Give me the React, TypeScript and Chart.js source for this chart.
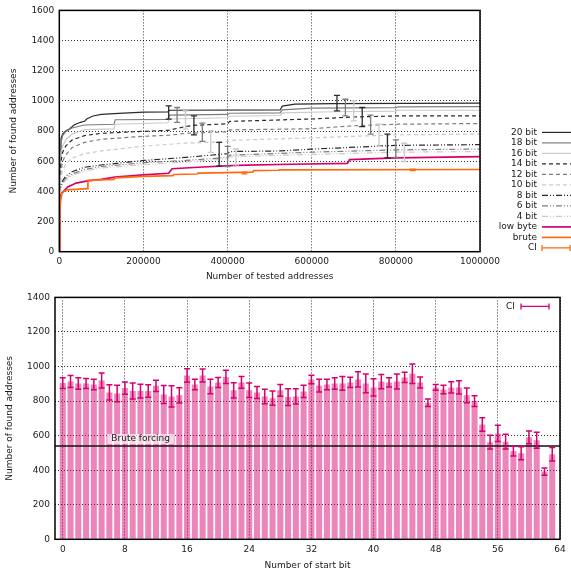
import React, { useEffect, useRef } from "react";
import { Chart, registerables } from "chart.js";

Chart.register(...registerables);

const FONT = "'DejaVu Sans', 'Liberation Sans', sans-serif";
const TEXT = "#1a1a1a";
const GRID = "rgba(0,0,0,0.8)";
const MAGENTA = "#d6006f";
const ORANGE = "#ff6a10";

// ---------------- top chart data ----------------
const testedTicks = [0, 200000, 400000, 600000, 800000, 1000000];
const foundTicksTop = [0, 200, 400, 600, 800, 1000, 1200, 1400, 1600];

const bit20 = [[0,0],[1000,500],[2000,680],[4000,750],[8000,780],[15000,800],[25000,815],[35000,840],[50000,858],[60000,865],[65000,880],[80000,900],[100000,910],[130000,915],[200000,925],[258000,927],[262000,938],[525000,940],[530000,965],[560000,978],[650000,982],[1000000,985]];
const bit18 = [[0,0],[1000,450],[2000,640],[4000,720],[8000,770],[15000,795],[30000,820],[60000,840],[130000,845],[133000,875],[258000,878],[262000,905],[400000,910],[405000,918],[525000,920],[530000,940],[600000,952],[800000,955],[805000,960],[1000000,962]];
const bit16 = [[0,0],[1000,400],[2000,560],[4000,650],[8000,700],[15000,740],[30000,780],[60000,810],[130000,815],[133000,845],[258000,855],[262000,880],[400000,888],[405000,898],[525000,903],[530000,920],[650000,928],[800000,932],[805000,938],[1000000,938]];
const bit14 = [[0,0],[1000,350],[2000,500],[4000,600],[8000,660],[15000,700],[30000,740],[60000,770],[100000,785],[200000,798],[260000,805],[300000,830],[320000,838],[400000,848],[405000,864],[600000,880],[700000,893],[800000,900],[1000000,901]];
const bit12 = [[0,0],[1000,330],[2000,460],[4000,540],[8000,600],[15000,640],[30000,690],[60000,725],[100000,745],[200000,765],[260000,772],[300000,785],[400000,795],[405000,808],[600000,815],[700000,835],[800000,845],[1000000,850]];
const bit10 = [[0,0],[1000,300],[2000,420],[4000,490],[8000,540],[15000,580],[30000,620],[60000,650],[100000,668],[200000,700],[300000,720],[400000,730],[405000,738],[600000,755],[800000,775],[1000000,780]];
const bit8 = [[0,0],[1000,300],[2000,400],[4000,440],[8000,470],[15000,500],[30000,530],[60000,560],[100000,575],[200000,605],[300000,625],[400000,650],[405000,664],[525000,668],[600000,680],[800000,705],[1000000,710]];
const bit6 = [[0,0],[1000,280],[2000,380],[4000,425],[8000,455],[15000,485],[30000,515],[60000,545],[100000,565],[200000,590],[300000,605],[400000,625],[405000,640],[600000,660],[800000,675],[1000000,681]];
const bit4 = [[0,0],[1000,270],[2000,370],[4000,415],[8000,445],[15000,475],[30000,505],[60000,535],[100000,555],[200000,578],[300000,595],[400000,615],[405000,630],[600000,645],[800000,660],[1000000,664]];
const lowByte = [[0,0],[1000,280],[3000,360],[6000,390],[10000,400],[20000,430],[40000,455],[67000,470],[100000,480],[132000,495],[200000,510],[260000,520],[268000,550],[330000,560],[420000,572],[550000,580],[685000,585],[690000,610],[800000,622],[1000000,630]];
const brute = [[0,0],[1000,250],[3000,340],[6000,385],[10000,400],[20000,410],[66000,418],[68000,473],[130000,480],[133000,490],[200000,500],[270000,505],[272000,512],[328000,515],[330000,521],[460000,527],[462000,538],[520000,540],[525000,543],[1000000,545]];

// confidence intervals: [x, low, high]
const ciBit20 = [[260000,879,967],[660000,934,1037]];
const ciBit18 = [[280000,857,956],[680000,901,1011]];
const ciBit16 = [[300000,813,934],[700000,868,1000]];
const ciBit14 = [[320000,774,901],[720000,829,956]];
const ciBit12 = [[340000,732,853],[740000,780,905]];
const ciBit10 = [[360000,659,802],[760000,699,846]];
const ciBit8 = [[380000,567,725],[780000,622,780]];
const ciBit6 = [[400000,565,699],[800000,626,741]];
const ciBit4 = [[420000,576,681],[820000,598,719]];
const ciLowByte: number[][] = [];
const ciBrute = [[440000,516,527],[840000,538,548]];

const seriesNames = ["20 bit","18 bit","16 bit","14 bit","12 bit","10 bit","8 bit","6 bit","4 bit","low byte","brute"];
const seriesPoints = [bit20, bit18, bit16, bit14, bit12, bit10, bit8, bit6, bit4, lowByte, brute];
const seriesCI = [ciBit20, ciBit18, ciBit16, ciBit14, ciBit12, ciBit10, ciBit8, ciBit6, ciBit4, ciLowByte, ciBrute];

const DARK = "#2a2a2a", MID = "#7d7d7d", LIGHT = "#cacaca";
const DASH = [4, 3];
const DDOT = [6, 2, 1, 2, 1, 2];
const seriesStyle = [
  { color: DARK, width: 1.2, dash: [] as number[] },
  { color: MID, width: 1.2, dash: [] as number[] },
  { color: LIGHT, width: 1.2, dash: [] as number[] },
  { color: DARK, width: 1.2, dash: DASH },
  { color: MID, width: 1.2, dash: DASH },
  { color: LIGHT, width: 1.2, dash: DASH },
  { color: DARK, width: 1.2, dash: DDOT },
  { color: MID, width: 1.2, dash: DDOT },
  { color: LIGHT, width: 1.2, dash: DDOT },
  { color: MAGENTA, width: 1.7, dash: [] as number[] },
  { color: ORANGE, width: 1.7, dash: [] as number[] },
];

// ---------------- bottom chart data ----------------
const startBits = [0,1,2,3,4,5,6,7,8,9,10,11,12,13,14,15,16,17,18,19,20,21,22,23,24,25,26,27,28,29,30,31,32,33,34,35,36,37,38,39,40,41,42,43,44,45,46,47,48,49,50,51,52,53,54,55,56,57,58,59,60,61,62,63];
const foundMeans = [904,913,902,902,896,919,850,844,875,858,858,858,888,838,827,833,948,896,948,885,908,940,862,908,862,850,827,817,862,823,827,856,925,890,896,902,902,908,925,902,879,913,908,913,937,958,908,790,879,867,879,879,833,800,665,562,613,565,510,498,590,573,392,492];
const ciHalf = [31,35,33,29,31,43,44,48,35,46,40,36,33,52,61,44,39,31,37,42,29,39,44,34,42,35,42,41,34,48,44,36,25,37,31,33,40,30,44,54,50,41,27,43,30,57,32,22,17,25,33,38,42,31,39,40,47,43,28,37,37,46,21,39];
const startBitTicks = [0, 8, 16, 24, 32, 40, 48, 56, 64];
const foundTicksBottom = [0, 200, 400, 600, 800, 1000, 1200, 1400];
const bruteForcing = 540;
const bruteLabel = "Brute forcing";
const bruteLabelAt = 6.25;

const font = { family: FONT, size: 9, lineHeight: 1.2 };

function drawBox(chart: any) {
  const { ctx, chartArea: a } = chart;
  ctx.save();
  ctx.strokeStyle = "#000";
  ctx.lineWidth = 1.5;
  ctx.strokeRect(a.left, a.top, a.right - a.left, a.bottom - a.top);
  ctx.restore();
}

function drawErrorBar(ctx: CanvasRenderingContext2D, x: number, y1: number, y2: number, cap: number) {
  ctx.beginPath();
  ctx.moveTo(x, y1); ctx.lineTo(x, y2);
  ctx.moveTo(x - cap, y1); ctx.lineTo(x + cap, y1);
  ctx.moveTo(x - cap, y2); ctx.lineTo(x + cap, y2);
  ctx.stroke();
}

const topPlugin = {
  id: "topExtras",
  afterDatasetsDraw(chart: any) {
    const { ctx, scales } = chart;
    const xs = scales.x, ys = scales.y;
    ctx.save();
    seriesCI.forEach((list, si) => {
      ctx.strokeStyle = seriesStyle[si].color;
      ctx.lineWidth = 1.3;
      ctx.setLineDash([]);
      list.forEach(([x, lo, hi]) => {
        drawErrorBar(ctx, xs.getPixelForValue(x), ys.getPixelForValue(hi), ys.getPixelForValue(lo), 3);
      });
    });
    ctx.restore();
  },
  afterDraw(chart: any) {
    drawBox(chart);
    const { ctx, chartArea } = chart;
    ctx.save();
    ctx.font = `9px ${FONT}`;
    ctx.textAlign = "right";
    ctx.textBaseline = "middle";
    const textRight = chartArea.right + 57;
    const x0 = chartArea.right + 62;
    const x1 = chartArea.right + 91;
    const startY = chartArea.top + 122;
    const step = 10.5;
    seriesNames.forEach((name, i) => {
      const y = startY + i * step;
      ctx.fillStyle = TEXT;
      ctx.fillText(name, textRight, y);
      ctx.strokeStyle = seriesStyle[i].color;
      ctx.lineWidth = seriesStyle[i].width;
      ctx.setLineDash(seriesStyle[i].dash);
      ctx.beginPath(); ctx.moveTo(x0, y); ctx.lineTo(x1, y); ctx.stroke();
    });
    const y = startY + seriesNames.length * step;
    ctx.fillStyle = TEXT;
    ctx.fillText("CI", textRight, y);
    ctx.setLineDash([]);
    ctx.strokeStyle = ORANGE;
    ctx.lineWidth = 1.3;
    ctx.beginPath();
    ctx.moveTo(x0, y); ctx.lineTo(x1 - 1, y);
    ctx.moveTo(x0, y - 3); ctx.lineTo(x0, y + 3);
    ctx.moveTo(x1 - 1, y - 3); ctx.lineTo(x1 - 1, y + 3);
    ctx.stroke();
    ctx.restore();
  },
};

const bottomPlugin = {
  id: "bottomExtras",
  afterDatasetsDraw(chart: any) {
    const { ctx, scales, chartArea } = chart;
    const xs = scales.x, ys = scales.y;
    ctx.save();
    // brute forcing line
    const yb = ys.getPixelForValue(bruteForcing);
    ctx.strokeStyle = "#111";
    ctx.lineWidth = 1.3;
    ctx.beginPath(); ctx.moveTo(chartArea.left, yb); ctx.lineTo(chartArea.right, yb); ctx.stroke();
    // label
    ctx.font = `9px ${FONT}`;
    const tx = xs.getPixelForValue(bruteLabelAt);
    const tw = ctx.measureText(bruteLabel).width;
    ctx.fillStyle = "rgba(255,255,255,0.65)";
    ctx.fillRect(tx - 4, yb - 12, tw + 8, 10);
    ctx.fillStyle = TEXT;
    ctx.textAlign = "left";
    ctx.textBaseline = "middle";
    ctx.fillText(bruteLabel, tx, yb - 7);
    // error bars
    ctx.strokeStyle = MAGENTA;
    ctx.lineWidth = 1.5;
    startBits.forEach((b, i) => {
      const x = xs.getPixelForValue(b);
      drawErrorBar(ctx, x, ys.getPixelForValue(foundMeans[i] + ciHalf[i]), ys.getPixelForValue(foundMeans[i] - ciHalf[i]), 3);
    });
    ctx.restore();
  },
  afterDraw(chart: any) {
    drawBox(chart);
    const { ctx, chartArea } = chart;
    ctx.save();
    ctx.font = `9px ${FONT}`;
    ctx.fillStyle = TEXT;
    ctx.textAlign = "right";
    ctx.textBaseline = "middle";
    const y = chartArea.top + 9;
    const textRight = chartArea.right - 45;
    ctx.fillText("CI", textRight, y);
    const x0 = chartArea.right - 39, x1 = chartArea.right - 11;
    ctx.strokeStyle = MAGENTA;
    ctx.lineWidth = 1.3;
    ctx.beginPath();
    ctx.moveTo(x0, y); ctx.lineTo(x1, y);
    ctx.moveTo(x0, y - 3); ctx.lineTo(x0, y + 3);
    ctx.moveTo(x1, y - 3); ctx.lineTo(x1, y + 3);
    ctx.stroke();
    ctx.restore();
  },
};

function axisCommon() {
  return {
    grid: { color: GRID, lineWidth: 1, drawTicks: false, offset: false },
    border: { display: false, dash: [1, 2] },
  };
}

export default function App() {
  const topRef = useRef<HTMLCanvasElement>(null);
  const botRef = useRef<HTMLCanvasElement>(null);

  useEffect(() => {
    const top = new Chart(topRef.current as HTMLCanvasElement, {
      type: "line",
      data: {
        datasets: seriesPoints.map((pts, i) => ({
          label: seriesNames[i],
          data: pts.map(([x, y]) => ({ x, y })),
          borderColor: seriesStyle[i].color,
          borderWidth: seriesStyle[i].width,
          borderDash: seriesStyle[i].dash,
          pointRadius: 0,
          fill: false,
          tension: 0,
          order: seriesPoints.length - 1 - i,
        })),
      },
      options: {
        responsive: false,
        animation: false,
        layout: { padding: { left: 0, right: 91, top: 9, bottom: 0 } },
        plugins: { legend: { display: false }, tooltip: { enabled: false } },
        scales: {
          x: {
            type: "linear",
            min: 0,
            max: 1000000,
            ...axisCommon(),
            afterBuildTicks: (s: any) => { s.ticks = testedTicks.map((v) => ({ value: v })); },
            afterFit: (s: any) => { s.height = 35.3; },
            ticks: { font, color: TEXT, padding: 5, maxRotation: 0, autoSkip: false, callback: (v: any) => String(v) },
            title: { display: true, text: "Number of tested addresses", font, color: TEXT, padding: { top: 0, bottom: 4.6 } },
          },
          y: {
            type: "linear",
            min: 0,
            max: 1600,
            ...axisCommon(),
            afterBuildTicks: (s: any) => { s.ticks = foundTicksTop.map((v) => ({ value: v })); },
            afterFit: (s: any) => { s.width = 59.3; },
            ticks: { font, color: TEXT, padding: 5, callback: (v: any) => String(v) },
            title: { display: true, text: "Number of found addresses", font, color: TEXT, padding: { top: 8.6, bottom: 0 } },
          },
        },
      } as any,
      plugins: [topPlugin],
    });

    const bot = new Chart(botRef.current as HTMLCanvasElement, {
      type: "bar",
      data: {
        datasets: [
          {
            label: "found",
            data: startBits.map((b, i) => ({ x: b, y: foundMeans[i] })),
            backgroundColor: "rgba(214,0,111,0.48)",
            borderWidth: 0,
            barPercentage: 0.78,
            categoryPercentage: 1,
          },
        ],
      },
      options: {
        responsive: false,
        animation: false,
        layout: { padding: { left: 0, right: 11, top: 10, bottom: 0 } },
        plugins: { legend: { display: false }, tooltip: { enabled: false } },
        scales: {
          x: {
            type: "linear",
            min: -1,
            max: 64,
            offset: false,
            ...axisCommon(),
            afterBuildTicks: (s: any) => { s.ticks = startBitTicks.map((v) => ({ value: v })); },
            afterFit: (s: any) => { s.height = 34.7; },
            ticks: { font, color: TEXT, padding: 5, maxRotation: 0, autoSkip: false, callback: (v: any) => String(v) },
            title: { display: true, text: "Number of start bit", font, color: TEXT, padding: { top: 0, bottom: 2.6 } },
          },
          y: {
            type: "linear",
            min: 0,
            max: 1400,
            ...axisCommon(),
            afterBuildTicks: (s: any) => { s.ticks = foundTicksBottom.map((v) => ({ value: v })); },
            afterFit: (s: any) => { s.width = 55; },
            ticks: { font, color: TEXT, padding: 5, callback: (v: any) => String(v) },
            title: { display: true, text: "Number of found addresses", font, color: TEXT, padding: { top: 4.6, bottom: 0 } },
          },
        },
      } as any,
      plugins: [bottomPlugin],
    });

    return () => {
      top.destroy();
      bot.destroy();
    };
  }, []);

  return (
    <div style={{ position: "absolute", left: 0, top: 0, width: 571, height: 574, background: "#fff" }}>
      <canvas ref={topRef} width={571} height={287} style={{ display: "block", width: 571, height: 287 }} />
      <canvas ref={botRef} width={571} height={287} style={{ display: "block", width: 571, height: 287 }} />
    </div>
  );
}
